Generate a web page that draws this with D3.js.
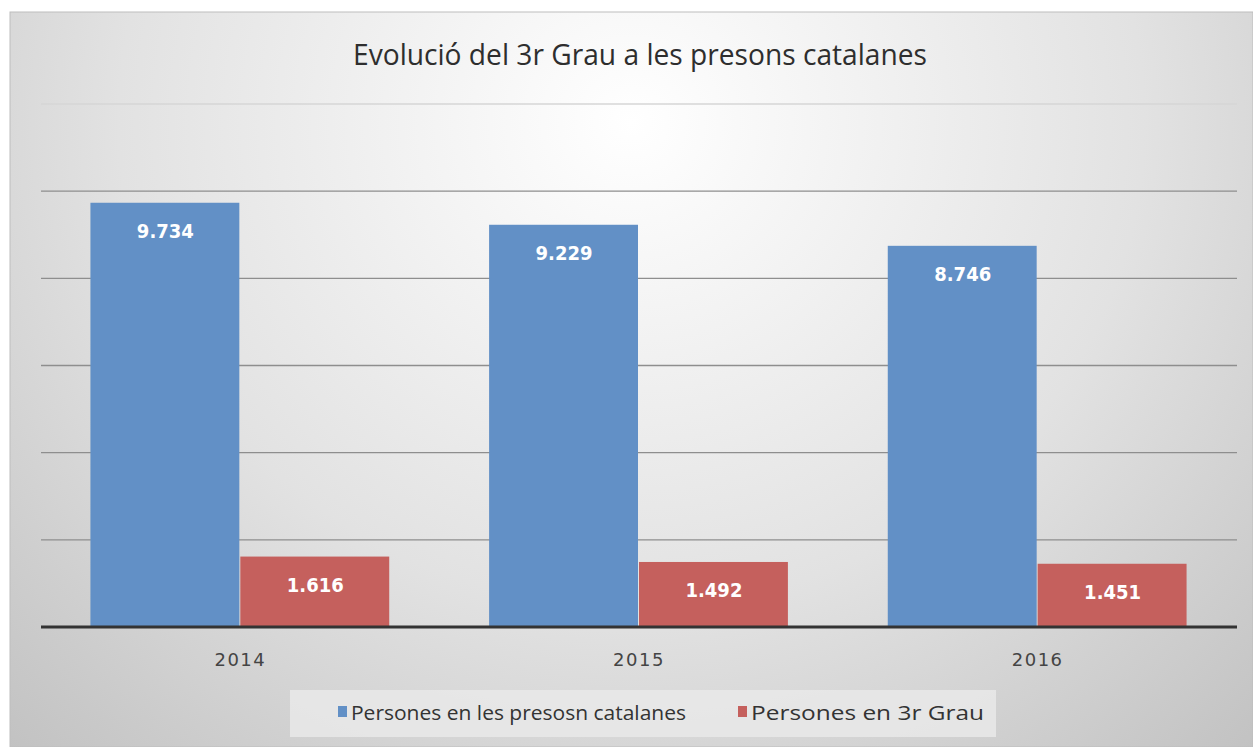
<!DOCTYPE html>
<html lang="ca">
<head>
<meta charset="UTF-8">
<title>Evolució del 3r Grau a les presons catalanes</title>
<script src="https://d3js.org/d3.v7.min.js"></script>
<style>
  body { margin: 0; background: #fff; }
  text { font-family: "Open Sans", "DejaVu Sans", sans-serif; }
</style>
</head>
<body>
<div id="chart"></div>
<script>
const years = ["2014", "2015", "2016"];
const seriesNames = ["Persones en les presosn catalanes", "Persones en 3r Grau"];
const presos = [9734, 9229, 8746];
const tercerGrau = [1616, 1492, 1451];
const yTicks = [0, 2000, 4000, 6000, 8000, 10000, 12000];
const colors = ["#6290c6", "#c5605d"];

const W = 1253, H = 747;
const svg = d3.select("#chart").append("svg").attr("width", W).attr("height", H);

const defs = svg.append("defs");
const grad = defs.append("radialGradient").attr("id", "bg")
  .attr("cx", "0.5").attr("cy", "0.15").attr("r", "0.75")
  .attr("gradientTransform", "translate(0.5,0.15) scale(1,1.6) translate(-0.5,-0.15)");
grad.append("stop").attr("offset", "0%").attr("stop-color", "#ffffff");
grad.append("stop").attr("offset", "55%").attr("stop-color", "#e2e2e2");
grad.append("stop").attr("offset", "100%").attr("stop-color", "#c0c0c0");

svg.append("rect").attr("x", 10).attr("y", 12).attr("width", W - 10).attr("height", H - 12)
  .attr("fill", "url(#bg)").attr("stroke", "#bdbdbd");

const plot = { left: 41, right: 1237, top: 104, bottom: 627 };

const x = d3.scaleBand().domain(years).range([plot.left, plot.right]).paddingInner(0.248).paddingOuter(0.124);
const xs = d3.scaleBand().domain([0, 1]).range([0, x.bandwidth()]);
const y = d3.scaleLinear().domain([0, 12000]).range([plot.bottom, plot.top]);

// gridlines
svg.append("g").selectAll("line").data(yTicks.filter(d => d > 0)).join("line")
  .attr("x1", plot.left).attr("x2", plot.right)
  .attr("y1", d => y(d)).attr("y2", d => y(d))
  .attr("stroke", d => d === 12000 ? "#d6d6d6" : "#8e8e8e").attr("stroke-width", 1.4);

const data = years.map((yr, i) => ({ yr, vals: [presos[i], tercerGrau[i]] }));

const groups = svg.append("g").selectAll("g").data(data).join("g")
  .attr("transform", d => `translate(${x(d.yr)},0)`);

groups.selectAll("rect").data(d => d.vals.map((v, k) => ({ v, k }))).join("rect")
  .attr("x", d => xs(d.k)).attr("width", xs.bandwidth() - 1)
  .attr("y", d => y(d.v)).attr("height", d => y(0) - y(d.v))
  .attr("fill", d => colors[d.k]);

groups.selectAll("text").data(d => d.vals.map((v, k) => ({ v, k }))).join("text")
  .attr("x", d => xs(d.k) + xs.bandwidth() / 2)
  .attr("y", d => y(d.v) + 35)
  .attr("text-anchor", "middle").attr("fill", "#fff")
  .attr("font-size", 20).attr("font-weight", "bold")
  .style("font-family", "'DejaVu Sans', sans-serif")
  .attr("textLength", 57).attr("lengthAdjust", "spacingAndGlyphs")
  .text(d => d3.format(",")(d.v).replace(",", "."));

// x axis
const xAxis = svg.append("g").attr("transform", `translate(0,${plot.bottom})`)
  .call(d3.axisBottom(x).tickSize(0).tickPadding(26));
xAxis.select(".domain").attr("stroke", "#333").attr("stroke-width", 3)
  .attr("d", `M${plot.left},0H${plot.right}`);
xAxis.selectAll("text").attr("font-size", 18).attr("fill", "#444").attr("letter-spacing", 1.5)
  .style("font-family", "'DejaVu Sans', sans-serif");

// title
svg.append("text").attr("x", 640).attr("y", 65).attr("text-anchor", "middle")
  .attr("font-size", 29).attr("fill", "#2e2e2e")
  .attr("textLength", 574).attr("lengthAdjust", "spacingAndGlyphs")
  .text("Evolució del 3r Grau a les presons catalanes");

// legend
const leg = svg.append("g");
leg.append("rect").attr("x", 290).attr("y", 690).attr("width", 706).attr("height", 47)
  .attr("fill", "#e9e9e9").attr("opacity", 0.85);
const legX = [338, 738], legW = [335, 233];
seriesNames.forEach((name, i) => {
  leg.append("rect").attr("x", legX[i]).attr("y", 706).attr("width", 9).attr("height", 11).attr("fill", colors[i]);
  leg.append("text").attr("x", legX[i] + 13).attr("y", 720).attr("font-size", 20).attr("fill", "#333")
    .attr("textLength", legW[i]).attr("lengthAdjust", "spacingAndGlyphs").text(name);
});
</script>
</body>
</html>
